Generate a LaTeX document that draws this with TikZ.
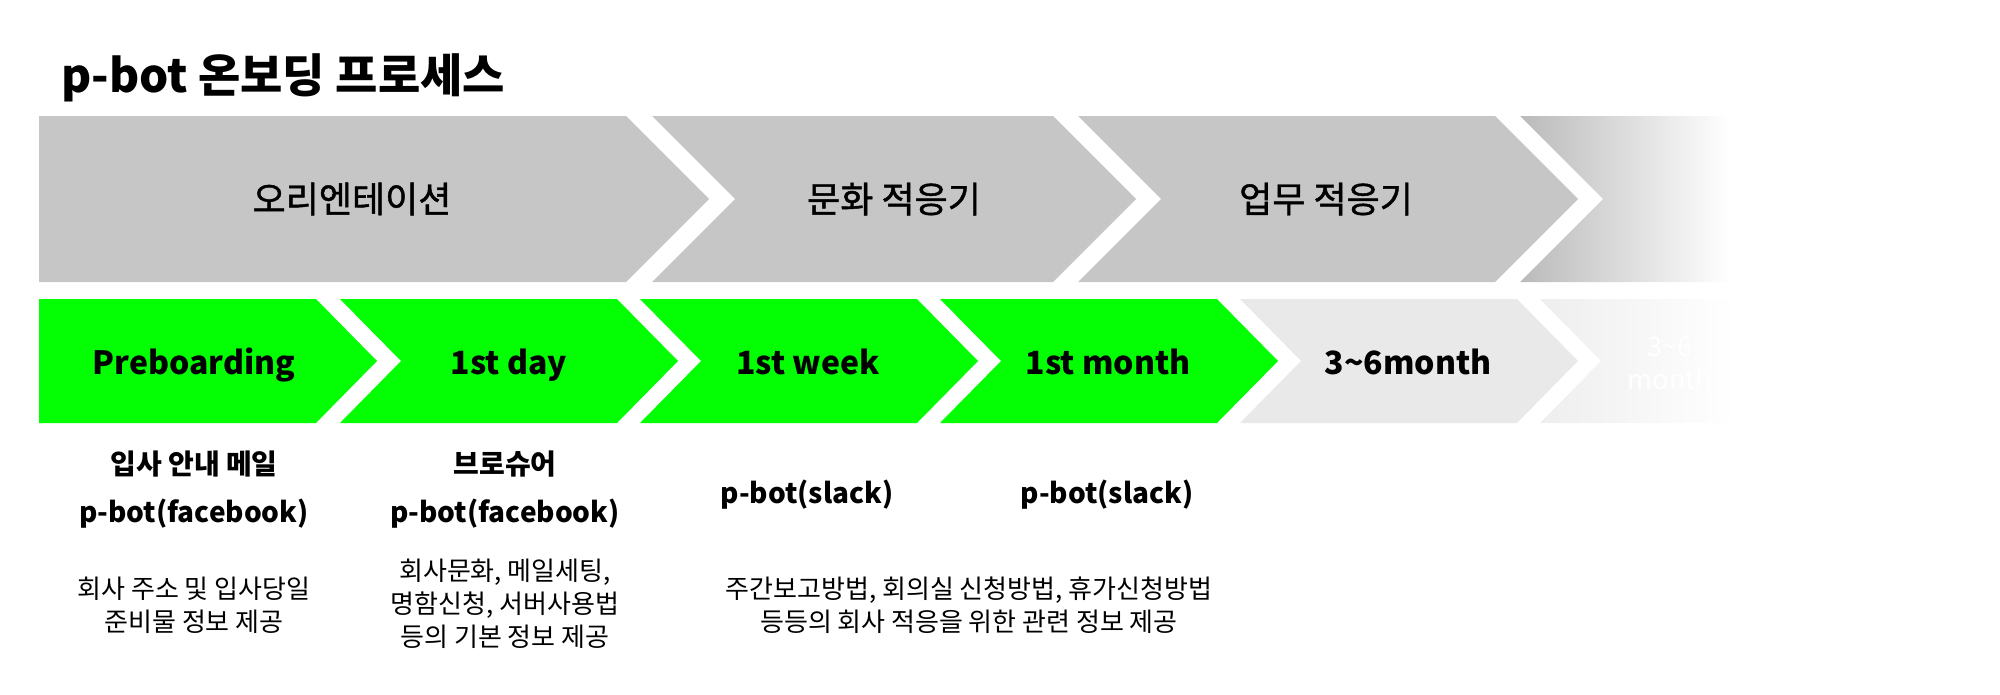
\documentclass[tikz,border=0pt]{standalone}
\usepackage{fontspec}
\setmainfont{Noto Sans CJK KR}
\newfontfamily\krmed[FakeBold=1.2]{Noto Sans CJK KR}
\definecolor{topgray}{RGB}{198,198,198}
\definecolor{fadegray}{RGB}{186,186,186}
\definecolor{stepgreen}{RGB}{4,255,4}
\definecolor{lightstep}{RGB}{233,233,233}
\definecolor{fadestep}{RGB}{238,238,238}
\begin{document}
\begin{tikzpicture}[x=1pt,y=-1pt,
  titlelbl/.style={anchor=base west, inner sep=0pt, font=\fontsize{46}{54}\selectfont\bfseries},
  phaselbl/.style={inner sep=0pt, font=\fontsize{36}{42}\selectfont\krmed},
  steplbl/.style={anchor=base, inner sep=0pt, font=\fontsize{32}{38}\selectfont\bfseries},
  toollbl/.style={inner sep=0pt, align=center, font=\fontsize{28}{48}\selectfont\bfseries},
  desclbl/.style={inner sep=0pt, align=center, font=\fontsize{26}{33}\selectfont},
  fadelbl/.style={inner sep=0pt, align=center, text=white, font=\fontsize{27}{33}\selectfont},
]
\useasboundingbox (0,0) rectangle (2000,694);

% title
\node[titlelbl] (title) at (61,92) {p-bot 온보딩 프로세스};

% top phase band
\fill[topgray] (39,116) -- (626,116) -- (709,199) -- (626,282) -- (39,282) -- cycle;
\fill[topgray] (652,116) -- (1053,116) -- (1136,199) -- (1053,282) -- (652,282) -- (735,199) -- cycle;
\fill[topgray] (1078,116) -- (1495,116) -- (1578,199) -- (1495,282) -- (1078,282) -- (1161,199) -- cycle;
\shade[left color=fadegray, right color=white] (1520,116) -- (1730,116) -- (1730,282) -- (1520,282) -- (1603,199) -- cycle;

\node[phaselbl] (ph1) at (352,199) {오리엔테이션};
\node[phaselbl] (ph2) at (894,199) {문화 적응기};
\node[phaselbl] (ph3) at (1326,199) {업무 적응기};

% bottom step band
\fill[stepgreen] (39,299) -- (316,299) -- (377,361) -- (316,423) -- (39,423) -- cycle;
\fill[stepgreen] (340,299) -- (617,299) -- (678,361) -- (617,423) -- (340,423) -- (401,361) -- cycle;
\fill[stepgreen] (640,299) -- (917,299) -- (978,361) -- (917,423) -- (640,423) -- (701,361) -- cycle;
\fill[stepgreen] (940,299) -- (1217,299) -- (1278,361) -- (1217,423) -- (940,423) -- (1001,361) -- cycle;
\fill[lightstep] (1240,299) -- (1517,299) -- (1578,361) -- (1517,423) -- (1240,423) -- (1301,361) -- cycle;
\shade[left color=fadestep, right color=white] (1540,299) -- (1735,299) -- (1735,423) -- (1540,423) -- (1601,361) -- cycle;

\node[steplbl] (s1) at (194,374) {Preboarding};
\node[steplbl] (s2) at (509,374) {1st day};
\node[steplbl] (s3) at (808,374) {1st week};
\node[steplbl] (s4) at (1108,374) {1st month};
\node[steplbl] (s5) at (1408,374) {3\textasciitilde6month};
\node[fadelbl] (s6) at (1670,363) {3\textasciitilde6\\month};

% descriptions
\node[toollbl] (t1) at (194,490) {입사 안내 메일\\p-bot(facebook)};
\node[toollbl] (t2) at (505,490) {브로슈어\\p-bot(facebook)};
\node[toollbl] (t3) at (807,495) {p-bot(slack)};
\node[toollbl] (t4) at (1107,495) {p-bot(slack)};

\node[desclbl] (d1) at (194,605) {회사 주소 및 입사당일\\준비물 정보 제공};
\node[desclbl] (d2) at (505,604) {회사문화, 메일세팅,\\명함신청, 서버사용법\\등의 기본 정보 제공};
\node[desclbl] (d3) at (969,605) {주간보고방법, 회의실 신청방법, 휴가신청방법\\등등의 회사 적응을 위한 관련 정보 제공};
\end{tikzpicture}
\end{document}
